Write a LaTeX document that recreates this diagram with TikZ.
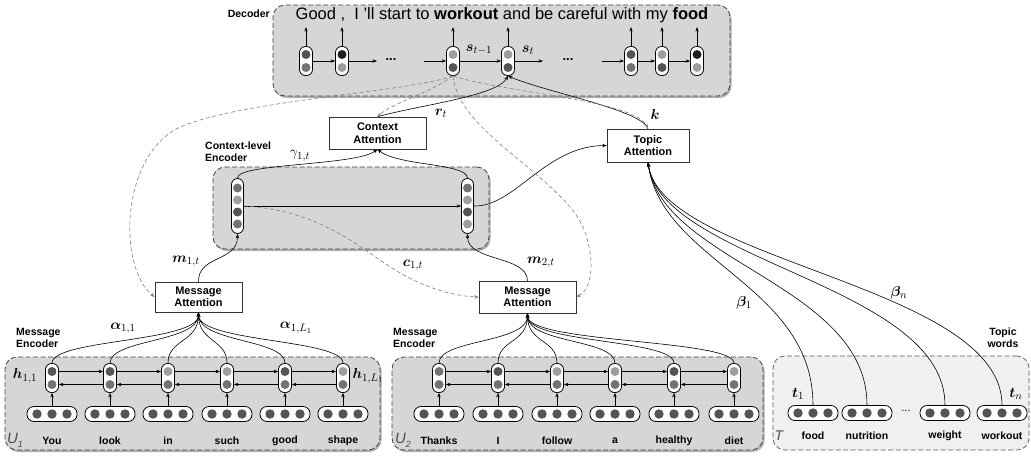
\documentclass[tikz,border=0pt]{standalone}
\usepackage[no-math]{fontspec}
\setmainfont{Liberation Sans}
\usepackage{amsmath,bm}
\usetikzlibrary{arrows.meta,shadows}
\definecolor{cbk}{gray}{0.12}
\definecolor{cdk}{gray}{0.33}
\definecolor{cmd}{gray}{0.45}
\definecolor{clt}{gray}{0.62}
\tikzset{
  arr/.style={-{Stealth[length=4.5pt,width=3.4pt]}, line width=0.6pt},
  plain/.style={line width=0.6pt},
  darr/.style={-{Stealth[length=4.5pt,width=3.4pt]}, draw=black!50, dash pattern=on 4pt off 2.5pt, line width=0.6pt},
  encbox/.style={draw=black!75, dash pattern=on 5pt off 2.5pt, rounded corners=12pt, fill=black!16, line width=0.8pt,
     drop shadow={shadow xshift=1.5pt, shadow yshift=-2pt, fill=black!45, opacity=0.7}},
  topbox/.style={draw=black!65, dash pattern=on 5pt off 2.5pt, rounded corners=12pt, fill=black!6, line width=0.7pt},
  attbox/.style={draw=black!80, fill=white, font=\bfseries\fontsize{11}{12.5}\selectfont, align=center, inner sep=0pt, line width=0.6pt},
  vcell/.style={draw, fill=white, rounded corners=6pt, minimum width=13pt, minimum height=29pt, inner sep=0pt, line width=0.8pt},
  ccell/.style={draw, fill=white, rounded corners=6pt, minimum width=12pt, minimum height=55pt, inner sep=0pt, line width=0.8pt},
  pill/.style={draw, fill=white, rounded corners=7pt, minimum width=50pt, minimum height=15pt, inner sep=0pt, line width=0.8pt},
  lbl/.style={font=\fontsize{15.5}{17}\selectfont, inner sep=0pt},
  boxlbl/.style={font=\bfseries\fontsize{10.5}{12}\selectfont, align=left, inner sep=0pt},
  word/.style={font=\bfseries\fontsize{10.5}{12}\selectfont, inner sep=0pt},
}
\newcommand{\mkvcell}[5]{%
  \node[vcell] (#1) at (#2,#3) {};
  \fill[#4] (#2,#3-6.5) circle[radius=4.5pt];
  \fill[#5] (#2,#3+6.5) circle[radius=4.5pt];}
\newcommand{\mkccell}[7]{%
  \node[ccell] (#1) at (#2,#3) {};
  \fill[#4] (#2,#3-18) circle[radius=4.5pt];
  \fill[#5] (#2,#3-6) circle[radius=4.5pt];
  \fill[#6] (#2,#3+6) circle[radius=4.5pt];
  \fill[#7] (#2,#3+18) circle[radius=4.5pt];}
\newcommand{\mkpill}[3]{%
  \node[pill] (#1) at (#2,#3) {};
  \fill[cdk] (#2-15,#3) circle[radius=4.7pt];
  \fill[cdk] (#2,#3) circle[radius=4.7pt];
  \fill[cdk] (#2+15,#3) circle[radius=4.7pt];}
\begin{document}
\begin{tikzpicture}[x=1pt,y=-1pt]
\useasboundingbox (0,0) rectangle (1031,459);
% ---------------- boxes
\node[encbox, minimum width=457pt, minimum height=91pt] (dec) at (501.5,50.5) {};
\node[encbox, minimum width=276pt, minimum height=82pt] (cenc) at (351,208) {};
\node[encbox, minimum width=375pt, minimum height=93pt] (me1) at (192.5,403.5) {};
\node[encbox, minimum width=371pt, minimum height=93pt] (me2) at (577.5,403.5) {};
\node[topbox, minimum width=256pt, minimum height=94pt] (tbox) at (901,403) {};
% ---------------- box labels
\node[boxlbl, anchor=east] (ldec) at (270,14) {Decoder};
\node[boxlbl, anchor=west] (lcenc) at (205,152) {Context-level\\Encoder};
\node[boxlbl, anchor=west] (lme1) at (16,338) {Message\\Encoder};
\node[boxlbl, anchor=west] (lme2) at (393,338) {Message\\Encoder};
\node[boxlbl, align=center] (ltw) at (1003,338) {Topic\\words};
% ---------------- decoder
\node[font=\fontsize{16.5}{19}\selectfont, inner sep=0pt] (sent) at (502,15) {Good ,\ \ I 'll start to \textbf{workout} and be careful with my \textbf{food}};
\mkvcell{d1}{306}{61}{cdk}{cmd}
\mkvcell{d2}{342}{61}{cbk}{clt}
\mkvcell{d3}{453}{61}{clt}{cdk}
\mkvcell{d4}{508}{61}{clt}{cdk}
\mkvcell{d5}{631}{61}{cdk}{cmd}
\mkvcell{d6}{662}{61}{clt}{cdk}
\mkvcell{d7}{697}{61}{cbk}{clt}
\foreach \c in {d1,d2,d3,d4,d5,d6,d7} \draw[arr] (\c.north) -- ++(0,-19);
\draw[arr] (d1) -- (d2);
\draw[arr] (d2) -- ++(35,0);
\node[font=\bfseries\fontsize{13}{14}\selectfont] (dots1) at (391,60) {...};
\coordinate (din1) at (424,61);
\draw[arr] (din1) -- (d3);
\draw[arr] (d3) -- (d4);
\draw[arr] (d4) -- ++(35,0);
\node[font=\bfseries\fontsize{13}{14}\selectfont] (dots2) at (568,60) {...};
\coordinate (din2) at (602,61);
\draw[arr] (din2) -- (d5);
\draw[arr] (d5) -- (d6);
\draw[arr] (d6) -- (d7);
\node[lbl] (lst1) at (479,50) {$\bm{s}_{t-1}$};
\node[lbl] (lst) at (528,50) {$\bm{s}_{t}$};
% ---------------- attention boxes
\node[attbox, minimum width=97pt, minimum height=32pt] (catt) at (377.5,133) {Context\\Attention};
\node[attbox, minimum width=82pt, minimum height=33pt] (tatt) at (648,145.5) {Topic\\Attention};
\node[attbox, minimum width=87pt, minimum height=30pt] (ma1) at (198.5,297) {Message\\Attention};
\node[attbox, minimum width=97pt, minimum height=32pt] (ma2) at (527.5,297) {Message\\Attention};
% ---------------- context encoder
\mkccell{cl}{237.5}{206}{cmd}{clt}{cdk}{cmd}
\mkccell{cr}{467.5}{206}{cmd}{clt}{cdk}{clt}
\draw[arr] (cl) -- (cr);
\draw[arr] (cl.north) .. controls (237,163) and (355,166) .. (catt.south);
\draw[arr] (cr.north) .. controls (467,163) and (398,166) .. (catt.south);
\draw[arr] (cr.east) .. controls (515,207) and (545,146) .. (tatt.west);
\node[lbl] (lgam) at (300,156) {$\gamma_{1,t}$};
% ---------------- decoder inputs
\draw[arr] (catt.north) .. controls (420,105) and (497,96) .. (d4.south);
\draw[arr] (tatt.north) .. controls (642,110) and (545,92) .. (d4.south);
\node[lbl] (lrt) at (441,113) {$\bm{r}_t$};
\node[lbl] (lk) at (655,114) {$\bm{k}$};
% ---------------- dashed attention queries
\draw[darr] (d3.south) .. controls (430,93) and (392,103) .. (catt.north);
\draw[darr] (d3.south) .. controls (505,93) and (635,100) .. (tatt.north);
\draw[darr] (d3.south) .. controls (410,92) and (240,100) .. (178,128) .. controls (120,158) and (118,268) .. (ma1.west);
\draw[darr] (d3.south) .. controls (458,135) and (570,180) .. (586,235) .. controls (596,268) and (590,290) .. (ma2.east);
\draw[darr] (cl.east) .. controls (320,210) and (360,248) .. (392,268) .. controls (418,285) and (450,296) .. (ma2.west);
\node[lbl] (lc1) at (413,265) {$\bm{c}_{1,t}$};
% ---------------- message to context
\draw[arr] (ma1.north) .. controls (198,255) and (237.5,262) .. (cl.south);
\draw[arr] (ma2.north) .. controls (527,255) and (467.5,262) .. (cr.south);
\node[lbl] (lm1) at (186,261) {$\bm{m}_{1,t}$};
\node[lbl] (lm2) at (541,262) {$\bm{m}_{2,t}$};
% ---------------- message encoder 1
\foreach \n/\x/\t/\w in {a/52/cdk/You, b/110/cdk/look, c/168/clt/in, d/227/clt/such, e/285/cdk/good, f/343/clt/shape}{
  \mkvcell{e1\n}{\x}{378}{\t}{cmd}
  \mkpill{p1\n}{\x}{414}
  \draw[arr] (p1\n.north) -- (e1\n.south);
  \node[word] (w1\n) at (\x,441) {\w};
  \draw[arr] (e1\n.north) .. controls +(0,-24) and +(0,30) .. (ma1.south);
}
\foreach \a/\b in {a/b, b/c, c/d, d/e, e/f}{
  \draw[arr] ([yshift=6.5pt]e1\a.east) -- ([yshift=6.5pt]e1\b.west);
  \draw[arr] ([yshift=-6.5pt]e1\b.west) -- ([yshift=-6.5pt]e1\a.east);
}
\node[font=\itshape\fontsize{15}{16}\selectfont, text=black!70, inner sep=0pt] (u1) at (15,440) {U\raisebox{-4pt}{\fontsize{9}{9}\selectfont 1}};
\node[lbl] (la11) at (123,328) {$\bm{\alpha}_{1,1}$};
\node[lbl] (la1L) at (296,328) {$\bm{\alpha}_{1,L_1}$};
\node[lbl] (lh11) at (25,376) {$\bm{h}_{1,1}$};
\node[lbl] (lh1L) at (368,376) {$\bm{h}_{1,L_1}$};
% ---------------- message encoder 2
\foreach \n/\x/\t/\w in {a/439/cmd/Thanks, b/498/cdk/I, c/557/clt/follow, d/615/clt/a, e/674/cdk/healthy, f/734/clt/diet}{
  \mkvcell{e2\n}{\x}{378}{\t}{cmd}
  \mkpill{p2\n}{\x}{414}
  \draw[arr] (p2\n.north) -- (e2\n.south);
  \node[word] (w2\n) at (\x,441) {\w};
  \draw[arr] (e2\n.north) .. controls +(0,-24) and +(0,30) .. (ma2.south);
}
\foreach \a/\b in {a/b, b/c, c/d, d/e, e/f}{
  \draw[arr] ([yshift=6.5pt]e2\a.east) -- ([yshift=6.5pt]e2\b.west);
  \draw[arr] ([yshift=-6.5pt]e2\b.west) -- ([yshift=-6.5pt]e2\a.east);
}
\node[font=\itshape\fontsize{15}{16}\selectfont, text=black!70, inner sep=0pt] (u2) at (403,440) {U\raisebox{-4pt}{\fontsize{9}{9}\selectfont 2}};
% ---------------- topic words
\foreach \n/\x/\w in {a/813/food, b/867/nutrition, c/945/weight, d/1002/workout}{
  \mkpill{tp\n}{\x}{413}
  \node[word] (tw\n) at (\x,436) {\w};
  \draw[arr] (tp\n.north) .. controls (\x,285) and (662,262) .. (tatt.south);
}
\node[font=\fontsize{11}{12}\selectfont] (tdots) at (906,411) {...};
\node[font=\itshape\fontsize{14}{16}\selectfont, text=black!70, inner sep=0pt] (tT) at (779,436) {T};
\node[lbl] (lt1) at (798,394) {$\bm{t}_1$};
\node[lbl] (ltn) at (1016,394) {$\bm{t}_n$};
\node[lbl] (lb1) at (744,303) {$\bm{\beta}_1$};
\node[lbl] (lbn) at (899,293) {$\bm{\beta}_n$};
\end{tikzpicture}
\end{document}
